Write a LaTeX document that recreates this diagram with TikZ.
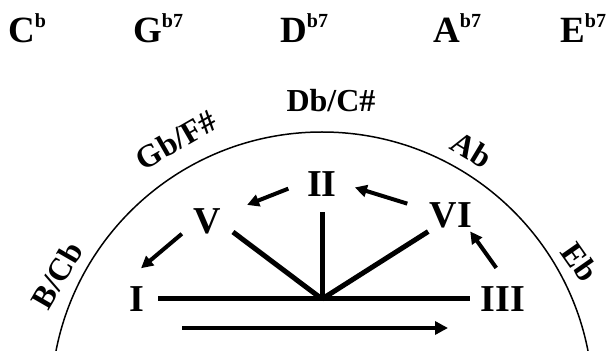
\documentclass[tikz,border=0pt]{standalone}
\usepackage{fontspec}
\setmainfont{Liberation Serif}
\usetikzlibrary{arrows.meta}
\newcommand{\chordname}[2]{#1\raisebox{15pt}{\fontsize{20}{20}\selectfont #2}}

\begin{document}
\begin{tikzpicture}[x=1pt, y=1pt,
        numeral/.style={circle, minimum size=56pt, inner sep=0pt, font=\fontsize{38}{38}\selectfont\bfseries},
        keyname/.style={inner sep=0pt, font=\fontsize{32}{32}\selectfont\bfseries},
        chord/.style={anchor=base west, inner sep=0pt, font=\fontsize{37}{37}\selectfont\bfseries},
        spoke/.style={line width=5pt},
        move/.style={line width=4pt, -{Triangle[length=12pt,width=12pt]}}]
        \useasboundingbox (0,0) rectangle (611,351);
        % Chords along the top
        \foreach \x/\nm/\ext in {8/C/b, 133/G/b7, 280/D/b7, 433/A/b7, 560/E/b7} {
            \node[chord] (chord\nm) at (\x,308) {\chordname{\nm}{\ext}};
        }
        % Circle of keys
        \begin{scope}
            \clip (0,0) rectangle (611,351);
            \draw[line width=1.5pt] (322,-52) circle (271pt);
        \end{scope}
        \node[keyname, rotate=60] (bcb) at (57,76) {B/Cb};
        \node[keyname, rotate=30] (gbfs) at (176,211) {Gb/F\#};
        \node[keyname, anchor=base] (dbcs) at (331,239) {Db/C\#};
        \node[keyname, rotate=-31] (ab) at (472,201) {Ab};
        \node[keyname, rotate=-55] (eb) at (580,89) {Eb};
        % Degrees
        \node[numeral] (I) at (137,52) {I};
        \node[numeral] (V) at (207,130) {V};
        \node[numeral] (II) at (322,167) {II};
        \node[numeral] (VI) at (451,136) {VI};
        \node[numeral] (III) at (503,52) {III};
        \coordinate (hub) at (322,52);
        \draw[spoke, shorten <=-7pt, shorten >=5pt] (I) -- (III);
        \draw[spoke] (V.-23) -- (hub);
        \draw[spoke] (II.south) -- (hub);
        \draw[spoke] (VI.216) -- (hub);
        % Moves between degrees
        \draw[move, shorten <=6pt, shorten >=15pt] (II.185) -- (V.22);
        \draw[move, shorten >=4pt] (V.207) -- (I.88);
        \draw[move, shorten <=17pt, shorten >=5pt] (VI.167) -- (II.-4);
        \draw[move, shorten <=4pt, shorten >=-3pt] (III.99) -- (VI.-42);
        % Direction
        \coordinate (flowstart) at (182,23);
        \coordinate (flowend) at (448,23);
        \draw[move, -{Triangle[length=13pt,width=13pt]}] (flowstart) -- (flowend);
    \end{tikzpicture}
\end{document}
